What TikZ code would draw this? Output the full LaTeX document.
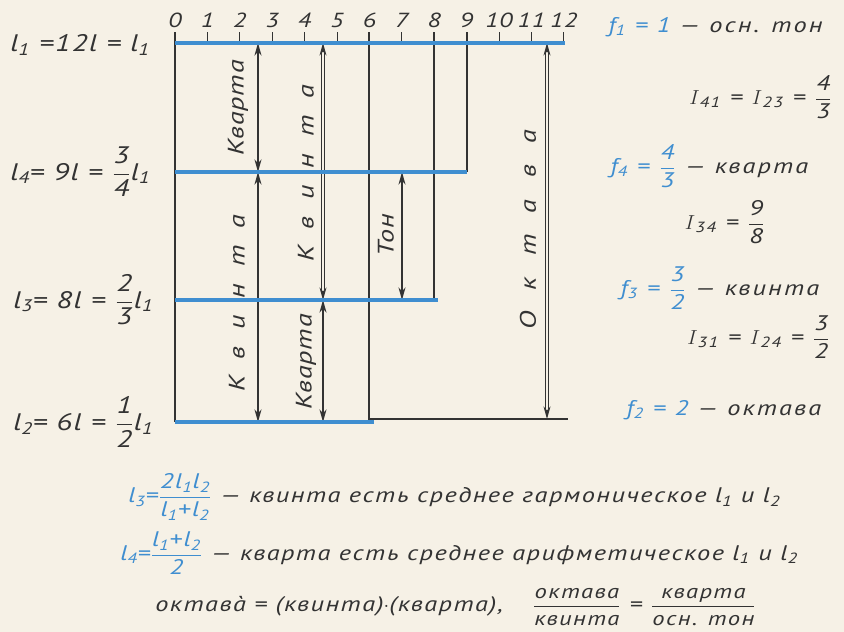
\documentclass[tikz,border=0pt]{standalone}
\usepackage{amsmath}
\usepackage{fontspec}
\setmainfont{PT Sans}[FakeStretch=1.25,LetterSpace=4]
\usepackage{tikz}
\usetikzlibrary{arrows.meta,calc}
\definecolor{ink}{HTML}{333333}
\definecolor{stringblue}{HTML}{3F8ED0}
\definecolor{paper}{HTML}{F6F1E6}

\newcommand{\idx}[1]{\textsubscript{#1}}
\newcommand{\frc}[2]{$\genfrac{}{}{0.7pt}{0}{\text{#1}}{\text{#2}}$}
\newcommand{\wide}[1]{{\addfontfeature{LetterSpace=75}#1}}
\newcommand{\Iv}{\ensuremath{I}}

\begin{document}
\begin{tikzpicture}[
    x=0.025cm, y=-0.025cm,
    stringStyle/.style={line width=2.8pt, draw=stringblue},
    guideStyle/.style={line width=0.8pt, draw=ink},
    tickStyle/.style={line width=0.6pt, draw=ink},
    arrowStyle/.style={{Stealth[length=9pt,width=5pt]}-{Stealth[length=9pt,width=5pt]}, line width=0.9pt, draw=ink},
    doubleStyle/.style={arrowStyle, double=paper, double distance=1.8pt, line width=0.8pt},
    tickLabel/.style={font=\fontsize{14.5}{16}\selectfont\itshape, text=ink, inner sep=0pt},
    lenStyle/.style={font=\fontsize{17}{19}\selectfont\itshape\addfontfeature{LetterSpace=6}, text=ink, anchor=west, inner sep=0pt},
    intervalStyle/.style={font=\fontsize{16}{18}\selectfont\itshape, text=ink, rotate=90, inner sep=0pt},
    noteStyle/.style={font=\fontsize{15}{17}\selectfont\itshape\addfontfeature{LetterSpace=10}, text=ink, inner sep=0pt},
    lawStyle/.style={font=\fontsize{15}{17}\selectfont\itshape\addfontfeature{LetterSpace=7}, text=ink, anchor=west, inner sep=0pt}
]
    % Paper
    \fill[paper] (0,0) rectangle (844,632);

    % Scale 0..12
    \foreach \k in {0,...,12}{
        \draw[tickStyle] ({175+32.4*\k},32) -- ({175+32.4*\k},43);
        \node[tickLabel] (n\k) at ({175+32.4*\k},20) {\k};
    }

    % Strings
    \coordinate (S1) at (175,43);  \coordinate (E1) at (565,43);
    \coordinate (S4) at (175,172); \coordinate (E4) at (467,172);
    \coordinate (S3) at (175,300); \coordinate (E3) at (438,300);
    \coordinate (S2) at (175,422); \coordinate (E2) at (374,422);
    \coordinate (B6) at (369,419); \coordinate (B12) at (568,419);

    % Guides
    \draw[guideStyle] (175,32) -- (S2);
    \draw[guideStyle] (369,32) -- (B6) -- (B12);
    \draw[guideStyle] (434,32) -- (434,300);
    \draw[guideStyle] (467,32) -- (467,172);

    % Intervals
    \coordinate (xA) at (258,0); \coordinate (xB) at (323,0);
    \coordinate (xC) at (402,0); \coordinate (xD) at (547,0);
    \draw[arrowStyle] (xA |- S1) -- (xA |- S4);
    \draw[arrowStyle] (xA |- S4) -- (xA |- S2);
    \draw[doubleStyle] (xB |- S1) -- (xB |- S3);
    \draw[arrowStyle] (xB |- S3) -- (xB |- S2);
    \draw[arrowStyle] (xC |- S4) -- (xC |- S3);
    \draw[doubleStyle] (xD |- S1) -- (xD |- B12);

    \draw[stringStyle] (S1) -- (E1);
    \draw[stringStyle] (S4) -- (E4);
    \draw[stringStyle] (S3) -- (E3);
    \draw[stringStyle] (S2) -- (E2);

    \node[intervalStyle] (kvartaTop) at (238,108) {Кварта};
    \node[intervalStyle] (kvintaLow) at (237,303) {\wide{Квинта}};
    \node[intervalStyle] (kvintaMid) at (306,173) {\wide{Квинта}};
    \node[intervalStyle] (kvartaMid) at (306,362) {Кварта};
    \node[intervalStyle] (ton) at (386,235) {Тон};
    \node[intervalStyle] (oktava) at (528,230) {{\addfontfeature{LetterSpace=95}Октава}};

    % Lengths
    \node[lenStyle] (len1) at (10,45) {l\idx{1} =12l = l\idx{1}};
    \node[lenStyle] (len4) at (10,172) {l\idx{4}= 9l = \frc{3}{4}l\idx{1}};
    \node[lenStyle] (len3) at (13,300) {l\idx{3}= 8l = \frc{2}{3}l\idx{1}};
    \node[lenStyle] (len2) at (13,422) {l\idx{2}= 6l = \frc{1}{2}l\idx{1}};

    % Frequencies
    \node[noteStyle, anchor=west] (f1) at (608,27) {\textcolor{stringblue}{f\idx{1} = 1} — осн. тон};
    \node[noteStyle, anchor=east] (i41) at (832,97) {\Iv\idx{41} = \Iv\idx{23} = \frc{4}{3}};
    \node[noteStyle, anchor=west] (f4) at (610,166) {\textcolor{stringblue}{f\idx{4} = \frc{4}{3}} — кварта};
    \node[noteStyle, anchor=east] (i34) at (765,222) {\Iv\idx{34} = \frc{9}{8}};
    \node[noteStyle, anchor=west] (f3) at (620,288) {\textcolor{stringblue}{f\idx{3} = \frc{3}{2}} — квинта};
    \node[noteStyle, anchor=east] (i31) at (830,337) {\Iv\idx{31} = \Iv\idx{24} = \frc{3}{2}};
    \node[noteStyle, anchor=west] (f2) at (626,410) {\textcolor{stringblue}{f\idx{2} = 2} — октава};

    % Means
    \node[lawStyle] (law3) at (128,497) {\textcolor{stringblue}{l\idx{3}=\frc{2l\idx{1}l\idx{2}}{l\idx{1}+l\idx{2}}} — квинта есть среднее гармоническое l\idx{1} и l\idx{2}};
    \node[lawStyle] (law4) at (120,553) {\textcolor{stringblue}{l\idx{4}=\frc{l\idx{1}+l\idx{2}}{2}} — кварта есть среднее арифметическое l\idx{1} и l\idx{2}};
    \node[lawStyle] (law8) at (155,607) {октавà = (квинта)$\cdot$(кварта),\quad\ {\fontsize{14}{16}\selectfont\frc{октава}{квинта}} = {\fontsize{14}{16}\selectfont\frc{кварта}{осн. тон}}};
\end{tikzpicture}
\end{document}
